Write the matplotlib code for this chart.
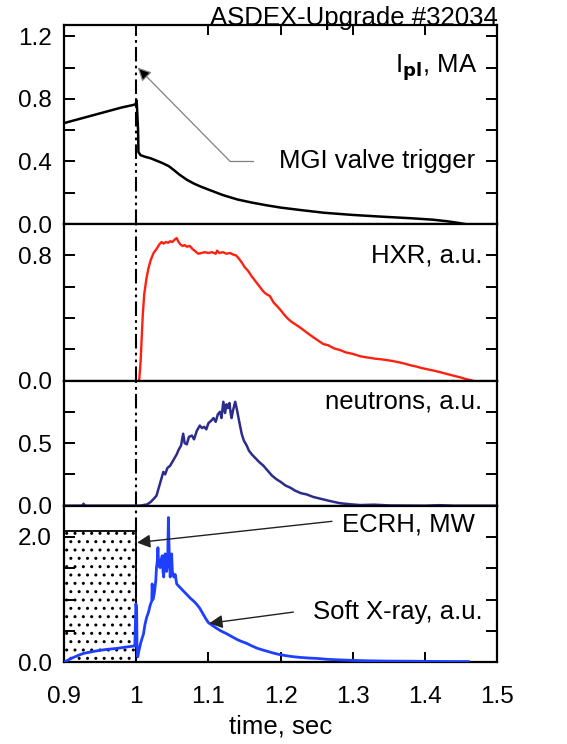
import matplotlib
matplotlib.use("Agg")
import matplotlib.pyplot as plt

plt.rcParams["font.family"] = ["Liberation Sans", "DejaVu Sans"]
plt.rcParams["hatch.linewidth"] = 1.0

# plasma current, MA
ipl_t = [0.90, 0.92, 0.94, 0.96, 0.98, 0.995, 0.999, 1.0005, 1.0015, 1.0025, 1.003,
         1.006, 1.012, 1.02, 1.028, 1.036, 1.045, 1.052, 1.06, 1.07, 1.08, 1.09, 1.10,
         1.12, 1.14, 1.16, 1.18, 1.20, 1.23, 1.26, 1.30, 1.34, 1.38, 1.41, 1.43, 1.445, 1.455]
ipl = [0.645, 0.67, 0.695, 0.72, 0.745, 0.76, 0.765, 0.79, 0.70, 0.60, 0.46,
       0.44, 0.43, 0.42, 0.405, 0.39, 0.37, 0.345, 0.315, 0.283, 0.258, 0.238, 0.22,
       0.185, 0.157, 0.137, 0.12, 0.105, 0.088, 0.072, 0.058, 0.047, 0.037, 0.028, 0.018, 0.008, 0.0]

# hard x-rays, a.u.
hxr_t = [1.004, 1.006, 1.0076, 1.009, 1.011, 1.014, 1.017, 1.020, 1.024, 1.028, 1.032, 1.035,
         1.038, 1.041, 1.044, 1.047, 1.050, 1.053, 1.056, 1.058, 1.061, 1.064, 1.067, 1.070,
         1.074, 1.078, 1.082, 1.086, 1.090, 1.095, 1.100, 1.105, 1.110, 1.112, 1.115, 1.120,
         1.125, 1.130, 1.134, 1.138, 1.142, 1.146, 1.150, 1.155, 1.160, 1.165, 1.170, 1.175,
         1.178, 1.181, 1.185, 1.190, 1.195, 1.199, 1.205, 1.210, 1.215, 1.220, 1.228, 1.236,
         1.244, 1.252, 1.259, 1.266, 1.274, 1.282, 1.290, 1.300, 1.310, 1.319, 1.330, 1.340,
         1.352, 1.360, 1.370, 1.380, 1.388, 1.395, 1.405, 1.413, 1.421, 1.430, 1.440, 1.448,
         1.456, 1.465]
hxr = [0.0, 0.12, 0.28, 0.42, 0.55, 0.65, 0.72, 0.77, 0.815, 0.84, 0.87, 0.885,
       0.875, 0.885, 0.88, 0.89, 0.885, 0.90, 0.91, 0.89, 0.87, 0.86, 0.865, 0.855,
       0.86, 0.84, 0.825, 0.81, 0.815, 0.82, 0.815, 0.82, 0.81, 0.83, 0.815, 0.82,
       0.81, 0.815, 0.805, 0.80, 0.78, 0.755, 0.725, 0.70, 0.665, 0.635, 0.605, 0.575,
       0.56, 0.55, 0.54, 0.50, 0.475, 0.455, 0.42, 0.395, 0.375, 0.36, 0.335, 0.307,
       0.28, 0.255, 0.233, 0.225, 0.205, 0.195, 0.18, 0.17, 0.155, 0.148, 0.14, 0.135,
       0.127, 0.12, 0.11, 0.097, 0.089, 0.08, 0.07, 0.062, 0.053, 0.042, 0.03, 0.021,
       0.01, 0.0]

# neutrons, a.u.
neu_t = [0.90, 0.925, 0.927, 0.929, 1.0, 1.005, 1.01, 1.015, 1.02, 1.025, 1.028, 1.031,
         1.034, 1.0375, 1.040, 1.043, 1.047, 1.050, 1.053, 1.056, 1.059, 1.062, 1.065, 1.067,
         1.070, 1.073, 1.077, 1.080, 1.084, 1.088, 1.091, 1.094, 1.097, 1.100, 1.104, 1.107,
         1.110, 1.113, 1.116, 1.118, 1.1206, 1.123, 1.125, 1.127, 1.129, 1.131, 1.132, 1.134,
         1.137, 1.139, 1.141, 1.143, 1.146, 1.149, 1.153, 1.156, 1.160, 1.165, 1.170, 1.176,
         1.182, 1.188, 1.1945, 1.200, 1.207, 1.213, 1.220, 1.228, 1.236, 1.245, 1.252, 1.259,
         1.27, 1.282, 1.295, 1.31, 1.33, 1.35, 1.40, 1.42, 1.44, 1.50]
neu = [0.0, 0.0, 0.015, 0.0, 0.0, 0.0, 0.005, 0.01, 0.03, 0.06, 0.08, 0.14,
       0.20, 0.27, 0.25, 0.30, 0.32, 0.35, 0.38, 0.41, 0.45, 0.48, 0.575, 0.50,
       0.49, 0.55, 0.56, 0.53, 0.60, 0.64, 0.62, 0.63, 0.61, 0.66, 0.68, 0.70,
       0.67, 0.73, 0.75, 0.70, 0.83, 0.74, 0.81, 0.78, 0.82, 0.73, 0.70, 0.76,
       0.83, 0.78, 0.72, 0.66, 0.575, 0.52, 0.48, 0.44, 0.41, 0.38, 0.35, 0.32,
       0.28, 0.24, 0.21, 0.19, 0.16, 0.145, 0.12, 0.10, 0.09, 0.07, 0.06, 0.05,
       0.035, 0.02, 0.012, 0.005, 0.008, 0.002, 0.0, 0.004, 0.0, 0.0]

# ECRH power, MW
ecrh_t = [0.9, 1.0]
ecrh = [2.1, 2.1]

# soft x-rays, a.u.
sxr_t = [0.900, 0.91, 0.92, 0.927, 0.94, 0.95, 0.96, 0.973, 0.985, 0.998, 0.9995, 1.0005,
         1.001, 1.002, 1.004, 1.006, 1.008, 1.010, 1.012, 1.0145, 1.017, 1.019, 1.0215, 1.022,
         1.023, 1.025, 1.027, 1.028, 1.029, 1.030, 1.031, 1.033, 1.034, 1.036, 1.037, 1.038,
         1.039, 1.040, 1.041, 1.042, 1.0435, 1.0445, 1.0455, 1.047, 1.048, 1.049, 1.050, 1.052,
         1.054, 1.056, 1.060, 1.065, 1.070, 1.075, 1.080, 1.084, 1.088, 1.092, 1.096, 1.100,
         1.105, 1.110, 1.117, 1.125, 1.132, 1.140, 1.146, 1.153, 1.160, 1.168, 1.175, 1.181,
         1.190, 1.197, 1.204, 1.215, 1.228, 1.240, 1.250, 1.265, 1.280, 1.296, 1.32, 1.35,
         1.38, 1.41, 1.44, 1.46]
sxr = [0.0, 0.06, 0.11, 0.14, 0.17, 0.19, 0.205, 0.22, 0.24, 0.26, 0.93, 0.85,
       0.30, 0.085, 0.20, 0.30, 0.38, 0.45, 0.60, 0.72, 0.80, 0.90, 0.98, 1.25,
       1.00, 1.10, 1.30, 1.51, 1.60, 1.83, 1.55, 1.51, 1.62, 1.70, 1.45, 1.36,
       1.60, 1.73, 1.50, 1.45, 1.60, 2.31, 1.80, 1.36, 1.55, 1.73, 1.45, 1.36,
       1.40, 1.25, 1.20, 1.14, 1.08, 1.02, 0.97, 0.92, 0.86, 0.78, 0.70, 0.63,
       0.59, 0.55, 0.50, 0.455, 0.41, 0.36, 0.33, 0.30, 0.26, 0.22, 0.195, 0.175,
       0.145, 0.125, 0.11, 0.09, 0.075, 0.065, 0.06, 0.045, 0.037, 0.03, 0.022, 0.017,
       0.015, 0.012, 0.01, 0.01]

xticks = [0.9, 1.0, 1.1, 1.2, 1.3, 1.4, 1.5]
xtick_labels = ["0.9", "1", "1.1", "1.2", "1.3", "1.4", "1.5"]

fig = plt.figure(figsize=(5.67, 7.44), dpi=100)
gs = fig.add_gridspec(4, 1, height_ratios=[6.35, 5, 4, 5], hspace=0,
                      left=0.113, right=0.877, top=0.966, bottom=0.110)
axes = [fig.add_subplot(gs[i]) for i in range(4)]

ylims = [1.27, 1.0, 1.0, 2.5]
majors = [[0, 0.4, 0.8, 1.2], [0, 0.8], [0, 0.5], [0, 2.0]]
minors = [[0.2, 0.6, 1.0], [0.2, 0.4, 0.6], [0.25, 0.75], [0.5, 1.0, 1.5]]
trig = (0, (7, 2, 1.3, 2, 1.3, 2))

for i, ax in enumerate(axes):
    ax.set_xlim(0.9, 1.5)
    ax.set_ylim(0, ylims[i])
    ax.set_yticks(majors[i])
    ax.set_yticklabels([f"{v:.1f}" for v in majors[i]])
    ax.set_yticks(minors[i], minor=True)
    ax.tick_params(axis="y", which="both", direction="in", left=True, right=True,
                   length=8, width=1.4, labelsize=17.5, pad=9)
    ax.set_xticks(xticks)
    ax.tick_params(axis="x", direction="in", length=7, width=1.4,
                   top=(i == 0), bottom=(i == 3), labelbottom=(i == 3),
                   labelsize=17.5, pad=17)
    for s in ax.spines.values():
        s.set_linewidth(1.6)
    ax.axvline(1.0, color="black", lw=1.5, linestyle=trig, zorder=1)

ax1, ax2, ax3, ax4 = axes

ax1.plot(ipl_t, ipl, color="black", lw=1.8)
ax1.text(1.472, 1.0, r"I$_{\mathbf{pl}}$, MA", ha="right", va="center", fontsize=18.5)
ax1.text(1.469, 0.4, "MGI valve trigger", ha="right", va="center", fontsize=18.5)
ax1.plot([1.13, 1.162], [0.4, 0.4], color="#808080", lw=0.9)
ax1.annotate("", xy=(1.002, 1.0), xytext=(1.13, 0.4),
             arrowprops=dict(arrowstyle="-|>", color="#808080", lw=0.9,
                             mutation_scale=20, shrinkA=0, shrinkB=0,
                             fc="black", ec="#808080"))

ax2.plot(hxr_t, hxr, color="#ff2010", lw=1.7)
ax2.text(1.480, 0.8, "HXR, a.u.", ha="right", va="center", fontsize=18.5)

ax3.plot(neu_t, neu, color="#2c2c8c", lw=1.8)
ax3.text(1.479, 0.83, "neutrons, a.u.", ha="right", va="center", fontsize=18.5)

ax4.fill_between(ecrh_t, 0, ecrh, facecolor="none", edgecolor="black", hatch="..",
                 lw=1.3, zorder=2)
ax4.plot(sxr_t, sxr, color="#1f3fff", lw=2.0, zorder=3)
ax4.text(1.469, 2.2, "ECRH, MW", ha="right", va="center", fontsize=18.5)
ax4.text(1.480, 0.80, "Soft X-ray, a.u.", ha="right", va="center", fontsize=18.5)
ax4.annotate("", xy=(1.001, 1.91), xytext=(1.271, 2.25),
             arrowprops=dict(arrowstyle="-|>", color="#222222", lw=1.0,
                             mutation_scale=20, shrinkA=0, shrinkB=0))
ax4.annotate("", xy=(1.101, 0.62), xytext=(1.2176, 0.80),
             arrowprops=dict(arrowstyle="-|>", color="#222222", lw=1.0,
                             mutation_scale=20, shrinkA=0, shrinkB=0))
ax4.set_xticklabels(xtick_labels)
ax4.set_xlabel("time, sec", fontsize=18.5, labelpad=5)

fig.text(0.878, 0.976, "ASDEX-Upgrade #32034", ha="right", va="center", fontsize=18.5)

fig.savefig("out.png", dpi=100)
